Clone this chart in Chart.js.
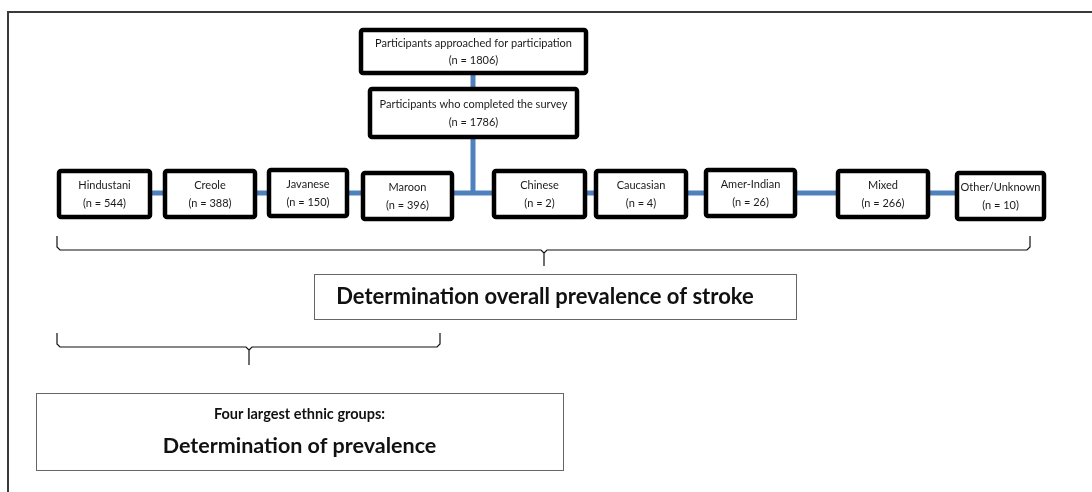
<!DOCTYPE html>
<html>
<head>
<meta charset="utf-8">
<script src="https://cdn.jsdelivr.net/npm/chart.js@4"></script>
<style>
  html, body { margin: 0; padding: 0; background: #fff; }
  #wrap { width: 1092px; height: 492px; }
</style>
</head>
<body>
<div id="wrap"><canvas id="flowChart" width="1092" height="492"></canvas></div>
<script>
// data
const stepLabels = ['Participants approached for participation', 'Participants who completed the survey'];
const stepN = [1806, 1786];
const groups = ['Hindustani', 'Creole', 'Javanese', 'Maroon', 'Chinese', 'Caucasian', 'Amer-Indian', 'Mixed', 'Other/Unknown'];
const groupN = [544, 388, 150, 396, 2, 4, 26, 266, 10];
const overallLabel = 'Determination overall prevalence of stroke';
const largestLabel = ['Four largest ethnic groups:', 'Determination of prevalence'];

// layout (chart units, 1 unit = 1 px)
const stepBoxes = [[361, 30, 586, 73], [370, 89, 577, 137]];
const groupLeft = [59, 165, 269, 363, 494, 596, 706, 838, 957];
const groupRight = [150, 255, 347, 452, 585, 686, 795, 928, 1044];
const groupTop = [171, 171, 170, 173, 171, 171, 170, 171, 173];
const groupH = 46;
const trunkX = 473, rowY = 193;
const overallBox = [314, 274, 796, 319];
const largestBox = [36, 393, 563, 470];

const blue = '#4f81bd';
const pts = arr => arr.map(p => ({x: p[0], y: p[1]}));

const datasets = [
    { data: pts([[8, 492], [8, 12], [1092, 12]]), borderColor: '#3a3a3a', borderWidth: 2 },
    { data: pts([[trunkX, 73], [trunkX, 89]]), borderColor: blue, borderWidth: 5 },
    { data: pts([[trunkX, 137], [trunkX, rowY]]), borderColor: blue, borderWidth: 5 },
    { data: pts([[groupRight[0], rowY], [groupLeft[8], rowY]]), borderColor: blue, borderWidth: 5 },
    { data: pts([[57, 236], [57, 247], [60, 250], [541, 250], [544, 253], [544, 266], [544, 253], [547, 250], [1027, 250], [1030, 247], [1030, 236]]), borderColor: '#111', borderWidth: 1.2 },
    { data: pts([[57, 333], [57, 344], [60, 347], [246, 347], [249, 350], [249, 365], [249, 350], [252, 347], [437, 347], [440, 344], [440, 333]]), borderColor: '#111', borderWidth: 1.2 }
].map(d => Object.assign(d, { showLine: true, pointRadius: 0, fill: false, tension: 0 }));

const boxPlugin = {
    id: 'boxes',
    afterDatasetsDraw(chart) {
        const c = chart.ctx, sx = chart.scales.x, sy = chart.scales.y;
        const X = v => sx.getPixelForValue(v), Y = v => sy.getPixelForValue(v);

        function thickBox(x0, y0, x1, y1, lines) {
            c.save();
            c.fillStyle = '#fff';
            c.strokeStyle = '#000';
            c.lineWidth = 4.5;
            c.lineJoin = 'round';
            c.beginPath();
            c.roundRect(X(x0), Y(y0), X(x1) - X(x0), Y(y1) - Y(y0), 2);
            c.fill();
            c.stroke();
            c.fillStyle = '#1a1a1a';
            c.font = '11px Lato, "Open Sans", sans-serif';
            c.textAlign = 'center';
            c.textBaseline = 'middle';
            const cx = (X(x0) + X(x1)) / 2, cy = (Y(y0) + Y(y1)) / 2;
            c.fillText(lines[0], cx, cy - 8.5);
            c.fillText(lines[1], cx, cy + 9);
            c.restore();
        }

        function thinBox(b, lines, fonts, ys, shift) {
            c.save();
            c.fillStyle = '#fff';
            c.strokeStyle = '#666';
            c.lineWidth = 1;
            c.fillRect(X(b[0]), Y(b[1]), X(b[2]) - X(b[0]), Y(b[3]) - Y(b[1]));
            c.strokeRect(X(b[0]) + 0.5, Y(b[1]) + 0.5, X(b[2]) - X(b[0]), Y(b[3]) - Y(b[1]));
            c.fillStyle = '#111';
            c.textAlign = 'center';
            c.textBaseline = 'middle';
            const cx = (X(b[0]) + X(b[2])) / 2 + (shift || 0);
            lines.forEach((t, i) => { c.font = fonts[i]; c.fillText(t, cx, Y(ys[i])); });
            c.restore();
        }

        stepLabels.forEach((l, i) => {
            const b = stepBoxes[i];
            thickBox(b[0], b[1], b[2], b[3], [l, `(n = ${stepN[i]})`]);
        });
        groups.forEach((g, i) => {
            thickBox(groupLeft[i], groupTop[i], groupRight[i], groupTop[i] + groupH, [g, `(n = ${groupN[i]})`]);
        });
        thinBox(overallBox, [overallLabel], ['bold 22px Lato, "Open Sans", sans-serif'], [297], -10);
        thinBox(largestBox, largestLabel,
            ['bold 14.5px Lato, "Open Sans", sans-serif', 'bold 21.5px Lato, "Open Sans", sans-serif'], [414, 446]);
    }
};

new Chart(document.getElementById('flowChart'), {
    type: 'scatter',
    data: { datasets },
    options: {
        responsive: false,
        animation: false,
        layout: { padding: 0 },
        scales: {
            x: { type: 'linear', min: 0, max: 1092, display: false },
            y: { type: 'linear', min: 0, max: 492, reverse: true, display: false }
        },
        plugins: { legend: { display: false }, tooltip: { enabled: false } }
    },
    plugins: [boxPlugin]
});
</script>
</body>
</html>
